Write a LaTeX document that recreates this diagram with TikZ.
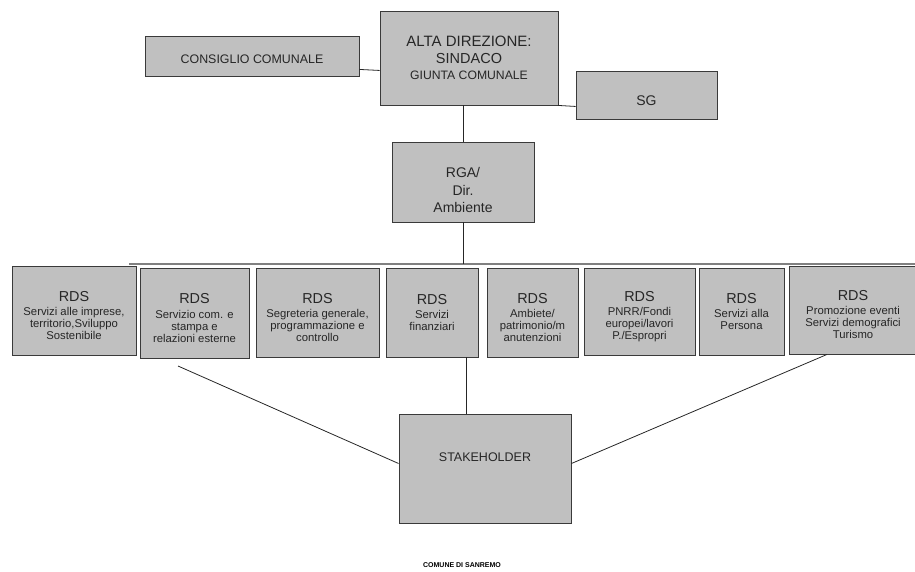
\documentclass[tikz,border=0pt]{standalone}
\usepackage{fontspec}
\setmainfont{Liberation Sans}
\usetikzlibrary{calc}

\definecolor{boxfill}{HTML}{C0C0C0}
\definecolor{boxline}{HTML}{3A3A3A}
\definecolor{busgray}{HTML}{808080}
\newcommand{\rdstitle}[1][0pt]{{\fontsize{14.4}{15}\selectfont\rule{0pt}{#1}RDS}}

\begin{document}
\begin{tikzpicture}[x=1pt, y=-1pt,
    box/.style={draw=boxline, line width=0.9pt, fill=boxfill, inner sep=0pt, align=center, text=black!85},
    wh/.style 2 args={minimum width=#1pt, minimum height=#2pt},
    rdsbox/.style={box, font=\fontsize{11.3}{12}\selectfont},
    conn/.style={draw=black!85, line width=0.8pt}]
    \useasboundingbox (0,0) rectangle (915,572);

    % Top level
    \node[box, wh={214}{40}, font=\fontsize{12.4}{14}\selectfont, text height=15pt, text depth=0pt] (cons) at (252,56) {CONSIGLIO COMUNALE};
    \node[box, wh={178}{94}, font=\fontsize{15}{17}\selectfont] (alta) at (469,58) {ALTA DIREZIONE:\\{\fontsize{14.5}{17}\selectfont SINDACO}\\[-1.5pt]{\fontsize{12.2}{15}\selectfont GIUNTA COMUNALE}};
    \node[box, wh={141}{48}, font=\fontsize{14}{16}\selectfont, text height=22pt, text depth=0pt] (sg) at (646.5,95) {SG};
    \draw[conn] ([yshift=7pt]cons.south east) -- ([yshift=35pt]alta.south west);
    \draw[conn] (alta.south east) -- ([yshift=13pt]sg.south west);

    % Direzione
    \node[box, wh={142}{80}, font=\fontsize{14}{17.5}\selectfont] (rga) at (463,182) {\rule{0pt}{27pt}RGA/\\Dir.\\Ambiente};
    \draw[conn] (rga.north) -- (rga.north |- alta.south);

    % Bus
    \coordinate (busL) at (129,264);
    \coordinate (busR) at (915,264);
    \draw[busgray, line width=2pt] (busL) -- (busR);
    \draw[conn] (rga.south) -- (rga.south |- busL);

    % RDS row
    \node[rdsbox, wh={124}{89}] (rds1) at (74,310.5) {\rdstitle[20pt]\\[2pt]Servizi alle imprese,\\territorio,Sviluppo\\Sostenibile};
    \node[rdsbox, wh={109}{90}] (rds2) at (194.5,313) {\rdstitle[20pt]\\[3pt]Servizio com. e\\stampa e\\relazioni esterne};
    \node[rdsbox, wh={123}{89}] (rds3) at (317.5,312.5) {\rdstitle[20pt]\\[2pt]Segreteria generale,\\programmazione e\\controllo};
    \node[rdsbox, wh={92}{89}] (rds4) at (432,312.5) {\rdstitle\\[2pt]Servizi\\finanziari};
    \node[rdsbox, wh={91}{89}] (rds5) at (532.5,312.5) {\rdstitle[20pt]\\[2pt]Ambiete/\\patrimonio/m\\anutenzioni};
    \node[rdsbox, wh={111}{87}] (rds6) at (639.5,311.5) {\rdstitle[20pt]\\[2pt]PNRR/Fondi\\europei/lavori\\P./Espropri};
    \node[rdsbox, wh={85}{87}] (rds7) at (741.5,311.5) {\rdstitle\\[2pt]Servizi alla\\Persona};
    \node[rdsbox, wh={128}{88}] (rds8) at (853,310) {\rdstitle[20pt]\\[2pt]Promozione eventi\\Servizi demografici\\Turismo};

    % Stakeholder
    \node[box, wh={172}{109}, font=\fontsize{12.5}{14}\selectfont, text height=4pt, text depth=18pt] (stake) at (485,468.5) {STAKEHOLDER};
    \coordinate (lfree) at (178,366);
    \draw[conn] ([xshift=-19pt]stake.north) -- ([xshift=-19pt]stake.north |- rds4.south);
    \draw[conn] (lfree) -- ([yshift=5pt]stake.west);
    \draw[conn] ([yshift=5pt]stake.east) -- ([xshift=-26pt]rds8.south);

    % Footer
    \node[font=\fontsize{7}{8}\selectfont\bfseries] (comune) at (462,565) {COMUNE DI SANREMO};
\end{tikzpicture}
\end{document}
